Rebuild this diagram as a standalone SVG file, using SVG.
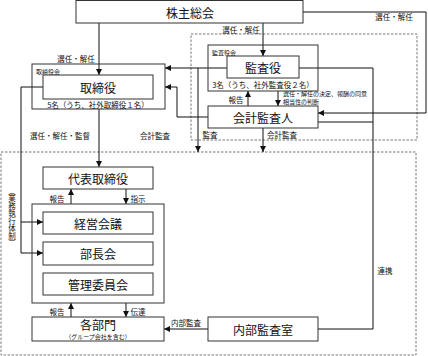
<svg xmlns="http://www.w3.org/2000/svg" width="428" height="356" viewBox="0 0 428 356">
<style>
.box{fill:#fff;stroke:#333;stroke-width:1}
.grp{fill:none;stroke:#333;stroke-width:1}
.dash{fill:none;stroke:#555;stroke-width:0.8;stroke-dasharray:2.5 1.5}
.ln{fill:none;stroke:#111;stroke-width:1}
.t{font-family:"Noto Sans CJK JP","Noto Sans CJK SC",sans-serif;fill:#111;text-anchor:middle;dominant-baseline:central}
.big{font-size:12px}
.sm{font-size:7.5px}
.xs{font-size:6px}
.l{text-anchor:start}
</style>
<defs>
<marker id="ah" markerUnits="userSpaceOnUse" markerWidth="6" markerHeight="6" refX="6" refY="3" orient="auto">
<path d="M0,0 L6,3 L0,6 z" fill="#111"/>
</marker>
</defs>

<rect class="dash" x="191" y="34" width="226" height="106"/>
<rect class="dash" x="1" y="152" width="415" height="203"/>

<g id="connectors">
<path class="ln" d="M99,23 V75" marker-end="url(#ah)"/>
<path class="ln" d="M263,23 V56" marker-end="url(#ah)"/>
<path class="ln" d="M303,12 H426 V113 H318" marker-end="url(#ah)"/>
<path class="ln" d="M227,68 H165" marker-end="url(#ah)"/>
<path class="ln" d="M208,117 H177 V87 H165" marker-end="url(#ah)"/>
<path class="ln" d="M198,68 V152" marker-end="url(#ah)"/>
<path class="ln" d="M263,128 V152" marker-end="url(#ah)"/>
<path class="ln" d="M248,106 V91" marker-end="url(#ah)"/>
<path class="ln" d="M278,91 V106" marker-end="url(#ah)"/>
<path class="ln" d="M299,68 H373 V329 H318"/>
<path class="ln" d="M318,122 H373"/>
<path class="ln" d="M99,109 V167" marker-end="url(#ah)"/>
<path class="ln" d="M43,87 H21 V253 H43" marker-end="url(#ah)"/>
<path class="ln" d="M21,222 H43" marker-end="url(#ah)"/>
<path class="ln" d="M71,204 V189" marker-end="url(#ah)"/>
<path class="ln" d="M126,189 V204" marker-end="url(#ah)"/>
<path class="ln" d="M71,317 V303" marker-end="url(#ah)"/>
<path class="ln" d="M126,303 V317" marker-end="url(#ah)"/>
<path class="ln" d="M208,329 H164" marker-end="url(#ah)"/>
</g>

<g id="kabunushi">
<rect class="box" x="76" y="0.5" width="227" height="22.5"/>
<text class="t big" x="190" y="12">株主総会</text>
</g>

<g id="torishimariyakukai">
<rect class="grp" x="32" y="64" width="133" height="45"/>
<text class="t xs l" x="36" y="71">取締役会</text>
<text class="t sm" x="98" y="104">5名（うち、社外取締役１名）</text>
</g>
<g id="torishimariyaku">
<rect class="box" x="43" y="75" width="110" height="24"/>
<text class="t big" x="98" y="87">取締役</text>
</g>

<g id="kansayakukai">
<rect class="grp" x="208" y="45" width="110" height="46"/>
<text class="t xs l" x="212" y="52">監査役会</text>
<text class="t sm" x="263" y="84">3名（うち、社外監査役２名）</text>
</g>
<g id="kansayaku">
<rect class="box" x="227" y="56" width="72" height="22"/>
<text class="t big" x="263" y="67">監査役</text>
</g>

<g id="kaikeikansanin">
<rect class="box" x="208" y="106" width="110" height="22"/>
<text class="t big" x="263" y="117">会計監査人</text>
</g>

<g id="daihyo">
<rect class="box" x="43" y="167" width="110" height="22"/>
<text class="t big" x="98" y="178">代表取締役</text>
</g>

<g id="kaigi-group">
<rect class="grp" x="32" y="204" width="132" height="99"/>
</g>
<g id="keiei">
<rect class="box" x="43" y="212" width="110" height="22"/>
<text class="t big" x="98" y="223">経営会議</text>
</g>
<g id="buchokai">
<rect class="box" x="43" y="242" width="110" height="23"/>
<text class="t big" x="98" y="253.5">部長会</text>
</g>
<g id="kanri">
<rect class="box" x="43" y="273" width="110" height="22"/>
<text class="t big" x="98" y="284">管理委員会</text>
</g>

<g id="kakubumon">
<rect class="box" x="32" y="317" width="132" height="24"/>
<text class="t big" x="98" y="324.5">各部門</text>
<text class="t xs" x="98" y="336">（グループ会社を含む）</text>
</g>

<g id="naibukansa">
<rect class="box" x="208" y="317" width="110" height="24"/>
<text class="t big" x="263" y="329">内部監査室</text>
</g>

<g id="labels">
<text class="t sm" x="76" y="58">選任・解任</text>
<text class="t sm" x="241" y="29">選任・解任</text>
<text class="t sm" x="394" y="16">選任・解任</text>
<text class="t sm" x="236" y="99">報告</text>
<text class="t xs l" x="283" y="93">選任・解任の決定、報酬の同意</text>
<text class="t xs l" x="283" y="101">相当性の判断</text>
<text class="t sm" x="60" y="135">選任・解任・監督</text>
<text class="t sm" x="155" y="135">会計監査</text>
<text class="t sm" x="210" y="134">監査</text>
<text class="t sm" x="282" y="134">会計監査</text>
<text class="t sm" x="57" y="198">報告</text>
<text class="t sm" x="138" y="198">指示</text>
<text class="t sm" x="57" y="311">報告</text>
<text class="t sm" x="138" y="311">伝達</text>
<text class="t sm" x="186" y="322">内部監査</text>
<text class="t sm" x="385" y="270">連携</text>
<text class="t sm" x="12" y="217" style="writing-mode:vertical-rl">（業務執行体制）</text>
</g>
</svg>
